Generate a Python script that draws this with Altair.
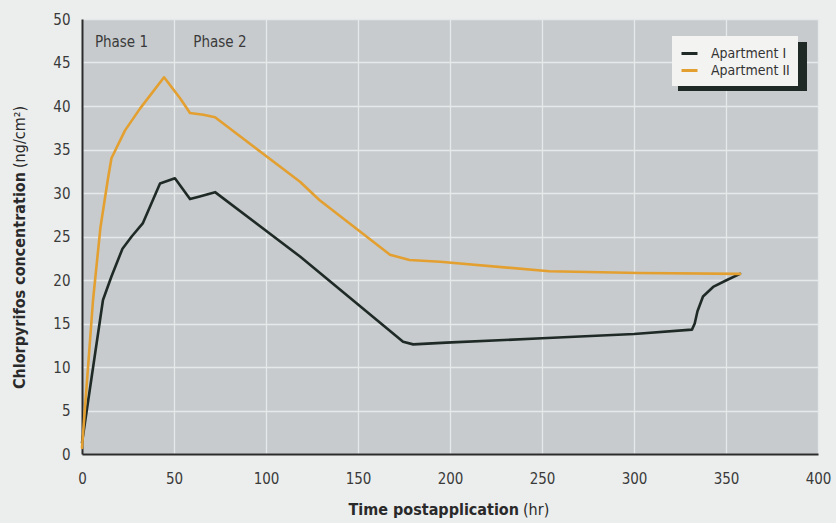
import altair as alt
import pandas as pd

# ---- data ----
hours_I = [0, 11.4, 16, 22, 27, 33, 42.4, 50.5, 58.7, 64, 72.3, 118.5, 174.5, 180, 198,
           250, 300, 331.5, 333, 334.5, 337.5, 343, 350.5, 357.6]
conc_I = [1.3, 17.7, 20.4, 23.6, 25.0, 26.5, 31.1, 31.7, 29.3, 29.6, 30.1, 22.7, 12.9, 12.6, 12.8,
          13.3, 13.8, 14.3, 15.0, 16.4, 18.1, 19.2, 20.0, 20.7]

hours_II = [0, 6, 10, 14, 16, 23.4, 31.5, 44.6, 53.3, 58.7, 66, 72.3, 118.5, 129, 167.4,
            178, 194.6, 254, 303, 357.6]
conc_II = [0.7, 17.7, 26.0, 31.5, 34.0, 37.2, 39.7, 43.3, 40.9, 39.2, 39.0, 38.7, 31.3, 29.2, 22.9,
           22.3, 22.1, 21.0, 20.8, 20.7]

series_names = ["Apartment I", "Apartment II"]
series_colors = ["#1f2a26", "#e3a030"]

x_ticks = [0, 50, 100, 150, 200, 250, 300, 350, 400]
y_ticks = [0, 5, 10, 15, 20, 25, 30, 35, 40, 45, 50]

phase_labels = ["Phase 1", "Phase 2"]
phase_hours = [7.0, 60.5]
phase_conc = [47.3, 47.3]

FONT = "DejaVu Sans Condensed, Liberation Sans Narrow, sans-serif"

rows = []
for h, c in zip(hours_I, conc_I):
    rows.append({"series": series_names[0], "hours": h, "conc": c})
for h, c in zip(hours_II, conc_II):
    rows.append({"series": series_names[1], "hours": h, "conc": c})
df = pd.DataFrame(rows)

phase_df = pd.DataFrame({"label": phase_labels, "hours": phase_hours, "conc": phase_conc})
one = pd.DataFrame({"k": [0]})

W, H = 736, 435

xscale = alt.Scale(domain=[0, 400], nice=False)
yscale = alt.Scale(domain=[0, 50], nice=False)

lines = alt.Chart(df).mark_line(strokeWidth=2.6, strokeJoin="round", strokeCap="round").encode(
    x=alt.X("hours:Q", scale=xscale,
            axis=alt.Axis(values=x_ticks, title=None, grid=True, ticks=False, labelFlush=False,
                          labelPadding=17, labelFontSize=15)),
    y=alt.Y("conc:Q", scale=yscale,
            axis=alt.Axis(values=y_ticks, title=None, grid=True, ticks=False, labelFlush=False,
                          labelPadding=12, labelFontSize=15)),
    color=alt.Color("series:N",
                    scale=alt.Scale(domain=series_names, range=series_colors),
                    legend=alt.Legend(title=None, orient="none", legendX=590, legendY=17,
                                      fillColor="#f3f4f2", padding=8,
                                      symbolType="stroke", symbolSize=256,
                                      symbolStrokeWidth=3, labelOffset=12,
                                      labelFontSize=14, labelFont=FONT,
                                      labelColor="#333333", rowPadding=0)),
)

shadow = alt.Chart(one).mark_rect(color="#1f2a26").encode(
    x=alt.value(596), x2=alt.value(725), y=alt.value(23), y2=alt.value(72)
)

phases = alt.Chart(phase_df).mark_text(align="left", baseline="middle", fontSize=15,
                                       font=FONT, color="#3a3a3a").encode(
    x=alt.X("hours:Q", scale=xscale),
    y=alt.Y("conc:Q", scale=yscale),
    text="label:N",
)

TS = 16
ytitle_b = alt.Chart(one).mark_text(angle=270, align="right", baseline="middle", fontSize=TS,
                                    fontWeight="bold", font=FONT, color="#2a2a2a",
                                    text="Chlorpyrifos concentration").encode(
    x=alt.value(-62), y=alt.value(153))
ytitle_n = alt.Chart(one).mark_text(angle=270, align="left", baseline="middle", fontSize=TS,
                                    font=FONT, color="#2a2a2a",
                                    text="(ng/cm²)").encode(
    x=alt.value(-62), y=alt.value(149))
xtitle_b = alt.Chart(one).mark_text(align="right", baseline="middle", fontSize=TS,
                                    fontWeight="bold", font=FONT, color="#2a2a2a",
                                    text="Time postapplication").encode(
    x=alt.value(437), y=alt.value(491))
xtitle_n = alt.Chart(one).mark_text(align="left", baseline="middle", fontSize=TS,
                                    font=FONT, color="#2a2a2a",
                                    text="(hr)").encode(
    x=alt.value(441), y=alt.value(491))

chart = alt.layer(shadow, lines, phases, ytitle_b, ytitle_n, xtitle_b, xtitle_n).properties(
    width=W, height=H,
    autosize=alt.AutoSizeParams(type="none"),
    padding={"left": 82, "top": 19, "right": 18, "bottom": 69},
    background="#eceeee",
).configure_view(
    fill="#c7cbce", stroke="transparent"
).configure_axis(
    domainColor="#2b2b2b", domainWidth=2,
    gridColor="#e6e9ea", gridWidth=1.3,
    labelFont=FONT, labelColor="#3a3a3a",
)

chart.save("out.html", embed_options={"renderer": "svg", "actions": False})
